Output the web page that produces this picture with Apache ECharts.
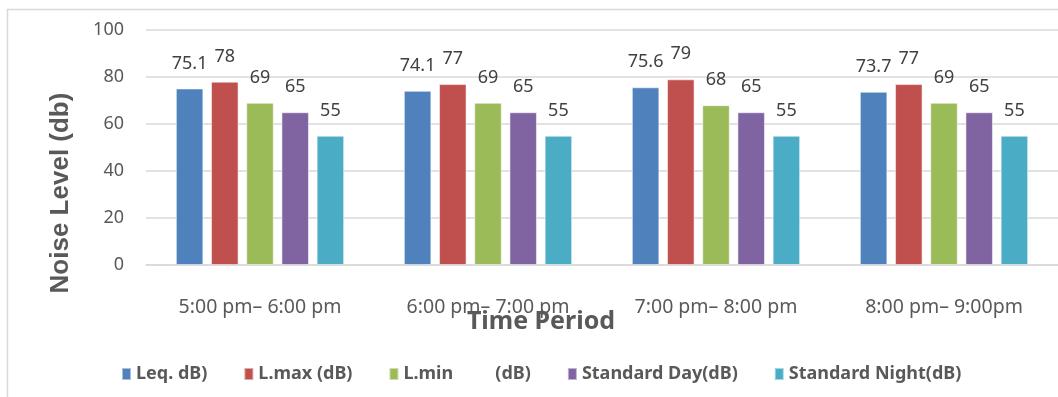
<!DOCTYPE html>
<html>
<head>
<meta charset="utf-8">
<script src="https://cdn.jsdelivr.net/npm/echarts@6/dist/echarts.min.js"></script>
<style>
html,body{margin:0;padding:0;background:#fff;}
#chart{width:1058px;height:397px;}
</style>
</head>
<body>
<div id="chart"></div>
<script>
const categories = ["5:00 pm\u2013 6:00 pm", "6:00 pm\u2013 7:00 pm", "7:00 pm\u2013 8:00 pm", "8:00 pm\u2013 9:00pm"];
const seriesNames = ["Leq. dB)", "L.max (dB)", "L.min         (dB)", "Standard Day(dB)", "Standard Night(dB)"];
const leq = [75.1, 74.1, 75.6, 73.7];
const lmax = [78, 77, 79, 77];
const lmin = [69, 69, 68, 69];
const stdDay = [65, 65, 65, 65];
const stdNight = [55, 55, 55, 55];
const yTicks = [0, 20, 40, 60, 80, 100];
const xTitle = "Time Period";
const yTitle = "Noise Level (db)";

const colors = ["#4F81BD", "#C0504D", "#9BBB59", "#8064A2", "#4BACC6"];
const values = [leq, lmax, lmin, stdDay, stdNight];

const chart = echarts.init(document.getElementById('chart'));
const textColor = '#595959';
const font = '"Noto Sans", sans-serif';

chart.setOption({
  animation: false,
  backgroundColor: '#fff',
  color: colors,
  textStyle: { fontFamily: font },
  grid: { left: 146, top: 30, width: 920, height: 235 },
  xAxis: {
    type: 'category',
    data: categories,
    axisLine: { lineStyle: { color: '#d9d9d9', width: 1.5 } },
    axisTick: { show: false },
    axisLabel: { color: textColor, fontSize: 19.5, fontFamily: font, margin: 32 }
  },
  yAxis: {
    type: 'value',
    min: yTicks[0],
    max: yTicks[yTicks.length - 1],
    interval: 20,
    axisLine: { show: false },
    axisTick: { show: false },
    splitLine: { lineStyle: { color: '#d9d9d9', width: 1.5 } },
    axisLabel: { color: textColor, fontSize: 18, fontFamily: font, margin: 22 }
  },
  legend: {
    left: 116,
    top: 360,
    itemWidth: 9,
    itemHeight: 12,
    itemGap: 36,
    icon: 'rect',
    textStyle: { color: textColor, fontSize: 18, fontWeight: 'bold', fontFamily: font },
    data: seriesNames
  },
  graphic: [
    { type: 'rect', shape: { x: 7.5, y: 9.5, width: 1100, height: 450 }, style: { fill: 'none', stroke: '#d9d9d9', lineWidth: 1.5 }, silent: true, z: -1 },
    { type: 'text', x: 541, y: 322, style: { text: xTitle, fill: textColor, font: 'bold 25px "Noto Sans", sans-serif', textAlign: 'center', textVerticalAlign: 'middle' } },
    { type: 'text', x: 61, y: 193, rotation: Math.PI / 2, style: { text: yTitle, fill: textColor, font: 'bold 26px "Liberation Sans", Arial, sans-serif', textAlign: 'center', textVerticalAlign: 'middle' } }
  ],
  series: seriesNames.map((name, i) => ({
    name: name,
    type: 'bar',
    data: values[i],
    barWidth: 27.5,
    barGap: '28%',
    itemStyle: { color: colors[i], borderColor: 'rgba(255,255,255,0.5)', borderWidth: 1 },
    label: {
      show: true,
      position: 'top',
      distance: 16,
      color: '#404040',
      fontSize: 18,
      fontFamily: font
    }
  }))
});
</script>
</body>
</html>
